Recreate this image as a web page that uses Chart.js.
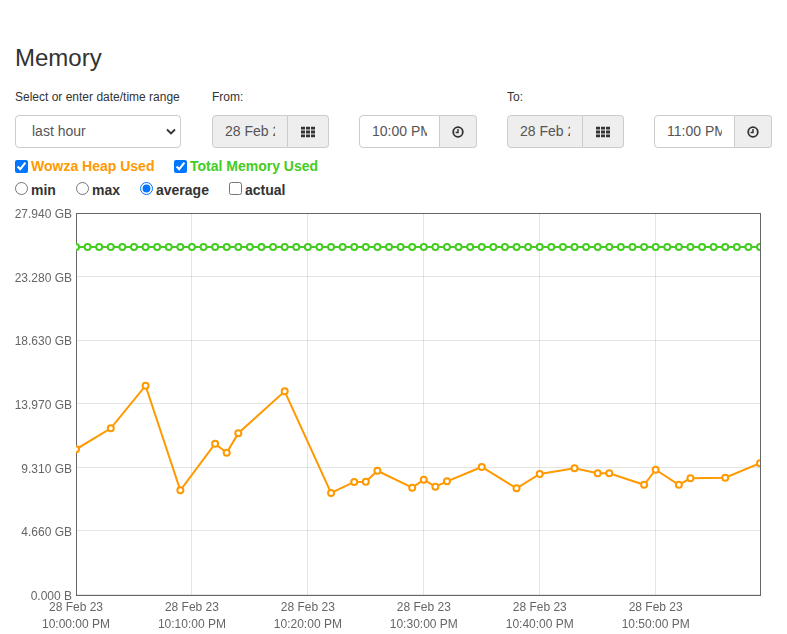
<!DOCTYPE html>
<html>
<head>
<meta charset="utf-8">
<script src="https://cdn.jsdelivr.net/npm/chart.js@4/dist/chart.umd.min.js"></script>
<style>
  html, body { margin:0; padding:0; background:#fff; }
  body { width:787px; height:634px; position:relative; overflow:hidden;
         font-family:"Helvetica Neue", Helvetica, Arial, sans-serif; color:#333; }
  .abs { position:absolute; }
  h1 { position:absolute; left:15px; top:46px; margin:0; font-size:24px; line-height:24px; font-weight:500; color:#333; }
  .lbl { font-size:12px; line-height:12px; color:#333; top:91px; }
  .box { position:absolute; box-sizing:border-box; border:1px solid #ccc; height:33px; top:115px;
         font-size:14px; color:#555; line-height:31px; overflow:hidden; white-space:nowrap; }
  .box .t { position:absolute; left:12px; top:0; overflow:hidden; }
  .sel { left:15px; width:166px; border-radius:4px; padding-left:16px; background:#fff; }
  .sel svg { position:absolute; right:4px; top:12px; }
  .grey { background:#eee; }
  .l { border-radius:4px 0 0 4px; }
  .r { border-radius:0 4px 4px 0; border-left:none; }
  .r svg { position:absolute; left:50%; top:50%; transform:translate(-50%,-50%); }
  .chk { position:absolute; font-size:14px; font-weight:bold; line-height:14px; }
  .chk input { position:absolute; margin:0; width:13px; height:13px; }
  .chk span { position:absolute; white-space:nowrap; }
  #wrap { position:absolute; left:0; top:201px; width:787px; height:433px; }
</style>
</head>
<body>
<h1>Memory</h1>
<div class="abs lbl" style="left:15px">Select or enter date/time range</div>
<div class="abs lbl" style="left:212px">From:</div>
<div class="abs lbl" style="left:507px">To:</div>

<div class="box sel">last hour
  <svg width="10" height="7" viewBox="0 0 10 7"><path d="M1 1.5 L5 5.5 L9 1.5" fill="none" stroke="#333" stroke-width="1.8"/></svg>
</div>

<div class="box grey l" style="left:212px;width:76px;"><span class="t" style="width:50px;">28 Feb 23</span></div>
<div class="box grey r" style="left:288px;width:41px;">
  <svg width="14" height="11" viewBox="0 0 14 11"><g fill="#333">
    <rect x="0" y="0" width="4" height="3"/><rect x="5" y="0" width="4" height="3"/><rect x="10" y="0" width="4" height="3"/>
    <rect x="0" y="4" width="4" height="3"/><rect x="5" y="4" width="4" height="3"/><rect x="10" y="4" width="4" height="3"/>
    <rect x="0" y="8" width="4" height="3"/><rect x="5" y="8" width="4" height="3"/><rect x="10" y="8" width="4" height="3"/>
  </g></svg>
</div>
<div class="box l" style="left:359px;width:81px;background:#fff;"><span class="t" style="width:55px;">10:00 PM</span></div>
<div class="box grey r" style="left:440px;width:37px;">
  <svg width="12" height="12" viewBox="0 0 12 12"><circle cx="6" cy="6" r="4.8" fill="none" stroke="#333" stroke-width="1.8"/><path d="M6 3 V6.4 H3.6" fill="none" stroke="#333" stroke-width="1.5"/></svg>
</div>

<div class="box grey l" style="left:507px;width:76px;"><span class="t" style="width:50px;">28 Feb 23</span></div>
<div class="box grey r" style="left:583px;width:41px;">
  <svg width="14" height="11" viewBox="0 0 14 11"><g fill="#333">
    <rect x="0" y="0" width="4" height="3"/><rect x="5" y="0" width="4" height="3"/><rect x="10" y="0" width="4" height="3"/>
    <rect x="0" y="4" width="4" height="3"/><rect x="5" y="4" width="4" height="3"/><rect x="10" y="4" width="4" height="3"/>
    <rect x="0" y="8" width="4" height="3"/><rect x="5" y="8" width="4" height="3"/><rect x="10" y="8" width="4" height="3"/>
  </g></svg>
</div>
<div class="box l" style="left:654px;width:81px;background:#fff;"><span class="t" style="width:55px;">11:00 PM</span></div>
<div class="box grey r" style="left:735px;width:37px;">
  <svg width="12" height="12" viewBox="0 0 12 12"><circle cx="6" cy="6" r="4.8" fill="none" stroke="#333" stroke-width="1.8"/><path d="M6 3 V6.4 H3.6" fill="none" stroke="#333" stroke-width="1.5"/></svg>
</div>

<div class="chk" style="left:15px;top:160px;"><input type="checkbox" checked><span style="left:16px;top:-1px;color:#ff9900;">Wowza Heap Used</span></div>
<div class="chk" style="left:174px;top:160px;"><input type="checkbox" checked><span style="left:16px;top:-1px;color:#44cc22;">Total Memory Used</span></div>

<div class="chk" style="left:15px;top:182px;"><input type="radio" name="agg"><span style="left:16px;top:1px;">min</span></div>
<div class="chk" style="left:76px;top:182px;"><input type="radio" name="agg"><span style="left:16px;top:1px;">max</span></div>
<div class="chk" style="left:140px;top:182px;"><input type="radio" name="agg" checked><span style="left:16px;top:1px;">average</span></div>
<div class="chk" style="left:229px;top:182px;"><input type="checkbox"><span style="left:16px;top:1px;">actual</span></div>

<div id="wrap"><canvas id="c"></canvas></div>

<script>
// Minutes after 28 Feb 23 10:00:00 PM
const heapMinutes = [0, 3, 6, 9, 12, 13, 14, 18, 22, 24, 25, 26, 29, 30, 31, 32, 35, 38, 40, 43, 45, 46, 49, 50, 52, 53, 56, 59];
// Wowza heap used, in units of 10^9 bytes
const heapValues = [11.42, 13.07, 16.42, 8.19, 11.86, 11.15, 12.68, 15.98, 7.98, 8.85, 8.87, 9.73, 8.40, 9.03, 8.48, 8.90, 10.03, 8.35, 9.48, 9.92, 9.53, 9.53, 8.63, 9.81, 8.63, 9.14, 9.18, 10.32];

const totalMinutes = [0, 1, 2, 3, 4, 5, 6, 7, 8, 9, 10, 11, 12, 13, 14, 15, 16, 17, 18, 19,
  20, 21, 22, 23, 24, 25, 26, 27, 28, 29, 30, 31, 32, 33, 34, 35, 36, 37, 38, 39,
  40, 41, 42, 43, 44, 45, 46, 47, 48, 49, 50, 51, 52, 53, 54, 55, 56, 57, 58, 59];
// Total memory used, in units of 10^9 bytes
const totalValues = [27.33, 27.33, 27.33, 27.33, 27.33, 27.33, 27.33, 27.33, 27.33, 27.33,
  27.33, 27.33, 27.33, 27.33, 27.33, 27.33, 27.33, 27.33, 27.33, 27.33,
  27.33, 27.33, 27.33, 27.33, 27.33, 27.33, 27.33, 27.33, 27.33, 27.33,
  27.33, 27.33, 27.33, 27.33, 27.33, 27.33, 27.33, 27.33, 27.33, 27.33,
  27.33, 27.33, 27.33, 27.33, 27.33, 27.33, 27.33, 27.33, 27.33, 27.33,
  27.33, 27.33, 27.33, 27.33, 27.33, 27.33, 27.33, 27.33, 27.33, 27.33];

const xTickDate = '28 Feb 23';
const xTickTimes = ['10:00:00 PM', '10:10:00 PM', '10:20:00 PM', '10:30:00 PM', '10:40:00 PM', '10:50:00 PM'];
const yTickLabels = ['0.000 B', '4.660 GB', '9.310 GB', '13.970 GB', '18.630 GB', '23.280 GB', '27.940 GB'];

const toPoints = (xs, ys) => xs.map((x, i) => ({ x: x, y: ys[i] }));

const frame = {
  id: 'frame',
  beforeDatasetsDraw(chart) {
    const a = chart.chartArea, ctx = chart.ctx;
    ctx.save();
    ctx.strokeStyle = '#666';
    ctx.lineWidth = 1;
    ctx.strokeRect(Math.round(a.left) + 0.5, Math.round(a.top) + 0.5,
                   Math.round(a.right) - Math.round(a.left), Math.round(a.bottom) - Math.round(a.top));
    ctx.restore();
  }
};

new Chart(document.getElementById('c'), {
  type: 'line',
  data: {
    datasets: [
      {
        label: 'Total Memory Used',
        data: toPoints(totalMinutes, totalValues),
        borderColor: '#44cc22', backgroundColor: '#ffffff',
        pointBackgroundColor: '#ffffff', pointBorderColor: '#44cc22',
        borderWidth: 2, pointRadius: 3, pointBorderWidth: 2, tension: 0, fill: false
      },
      {
        label: 'Wowza Heap Used',
        data: toPoints(heapMinutes, heapValues),
        borderColor: '#ff9900', backgroundColor: '#ffffff',
        pointBackgroundColor: '#ffffff', pointBorderColor: '#ff9900',
        borderWidth: 2, pointRadius: 3, pointBorderWidth: 2, tension: 0, fill: false
      }
    ]
  },
  options: {
    responsive: true, maintainAspectRatio: false, animation: false,
    layout: { padding: { left: 0, right: 27, top: 12, bottom: 0 } },
    plugins: { legend: { display: false }, tooltip: { enabled: false } },
    scales: {
      x: {
        type: 'linear', min: 0, max: 59,
        border: { display: false },
        grid: { color: 'rgba(0,0,0,0.1)', drawTicks: false },
        afterFit(s) { s.height = 39.5; },
        ticks: {
          stepSize: 10, includeBounds: false, padding: 5, maxRotation: 0, autoSkip: false,
          color: '#666', font: { size: 12, lineHeight: '17px' },
          callback: (v) => { const i = Math.round(v / 10); return [xTickDate, xTickTimes[i]]; }
        }
      },
      y: {
        min: 0, max: 30,
        border: { display: false },
        grid: { color: 'rgba(0,0,0,0.1)', drawTicks: false },
        afterFit(s) { s.width = 76; },
        ticks: {
          stepSize: 5, padding: 4, labelOffset: 2, color: '#666', font: { size: 12 },
          callback: (v) => yTickLabels[Math.round(v / 5)]
        }
      }
    }
  },
  plugins: [frame]
});
</script>
</body>
</html>
